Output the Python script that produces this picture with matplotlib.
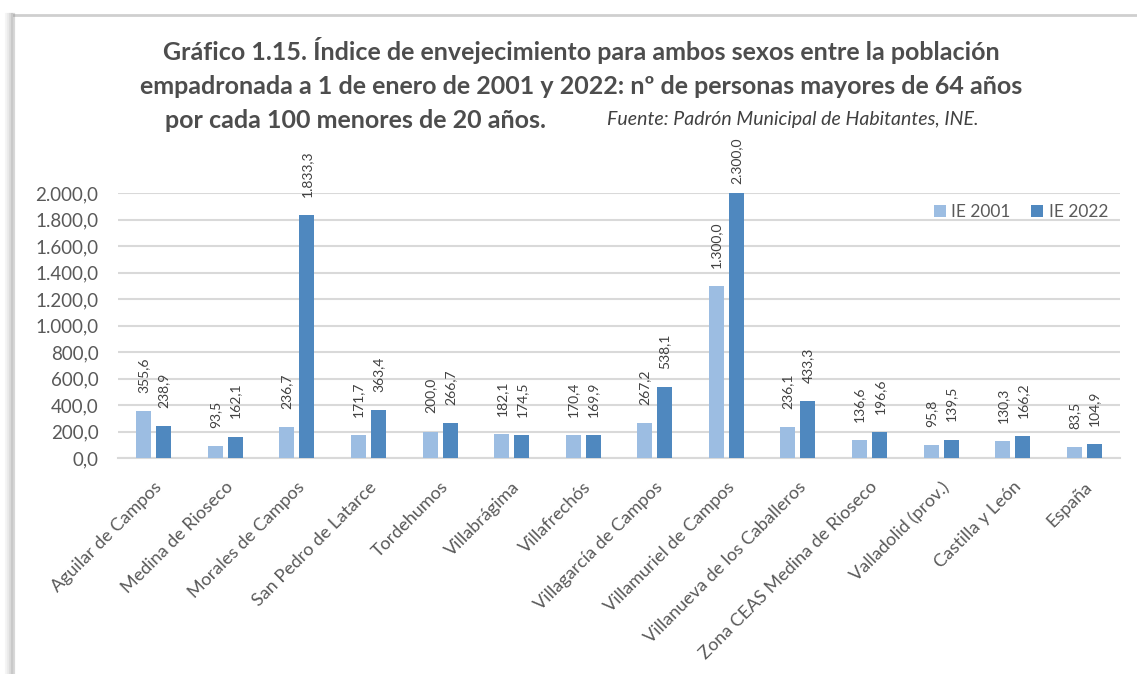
import matplotlib.pyplot as plt
import numpy as np
from matplotlib.lines import Line2D

plt.rcParams['font.family'] = ['Lato', 'DejaVu Sans']

# %% data
categories = ['Aguilar de Campos', 'Medina de Rioseco', 'Morales de Campos',
              'San Pedro de Latarce', 'Tordehumos', 'Villabrágima', 'Villafrechós',
              'Villagarcía de Campos', 'Villamuriel de Campos',
              'Villanueva de los Caballeros', 'Zona CEAS Medina de Rioseco',
              'Valladolid (prov.)', 'Castilla y León', 'España']
ie_2001 = [355.6, 93.5, 236.7, 171.7, 200.0, 182.1, 170.4, 267.2, 1300.0,
           236.1, 136.6, 95.8, 130.3, 83.5]
ie_2022 = [238.9, 162.1, 1833.3, 363.4, 266.7, 174.5, 169.9, 538.1, 2300.0,
           433.3, 196.6, 139.5, 166.2, 104.9]
yticks = np.arange(0, 2001, 200)

c_2001 = '#9cbde2'
c_2022 = '#4f88bf'
txt = '#595959'


def es_fmt(v):
    # spanish number format: 1.833,3
    s = '{:,.1f}'.format(v)
    return s.replace(',', 'X').replace('.', ',').replace('X', '.')


# %% figure
fig = plt.figure(figsize=(11.37, 6.74), dpi=100)
ax = fig.add_axes([118 / 1137, 1 - 458 / 674, (1120 - 118) / 1137, (458 - 193) / 674])

x = np.arange(len(categories))
w = 0.21
off = 0.14
ax.bar(x - off, ie_2001, w, color=c_2001, label='IE 2001', zorder=3)
ax.bar(x + off, ie_2022, w, color=c_2022, label='IE 2022', zorder=3)

ax.set_ylim(0, 2000)
ax.set_xlim(-0.5, len(categories) - 0.5)
ax.set_yticks(yticks)
ax.set_yticklabels([es_fmt(v) for v in yticks], fontsize=13.5, color=txt)
ax.set_xticks(x)
ax.set_xticklabels(categories, rotation=45, ha='right', rotation_mode='anchor',
                   fontsize=13, color=txt)
ax.tick_params(axis='both', length=0)
ax.tick_params(axis='x', pad=15)
ax.tick_params(axis='y', pad=14)
ax.grid(axis='y', color='#d9d9d9', linewidth=1.5, zorder=0)
for s in ['top', 'right', 'left']:
    ax.spines[s].set_visible(False)
ax.spines['bottom'].set_color('#d9d9d9')
ax.spines['bottom'].set_linewidth(1.5)

for vals, dx in [(ie_2001, -off), (ie_2022, off)]:
    for i, v in enumerate(vals):
        ax.annotate(es_fmt(v), (x[i] + dx, min(v, 2000)), xytext=(0, 6.5 if v > 2000 else 13),
                    textcoords='offset points', rotation=90, ha='center', va='bottom',
                    fontsize=10, color='#404040', annotation_clip=False)

leg = ax.legend(loc='upper right', bbox_to_anchor=(0.995, 0.985), ncol=2, frameon=False,
                fontsize=12.5, handlelength=0.7, handleheight=0.7, handletextpad=0.3,
                columnspacing=1.2, borderaxespad=0)
for t in leg.get_texts():
    t.set_color(txt)

# %% title
tcol = '#4d4d4d'
fig.text(0.511, 1 - 50 / 674, 'Gráfico 1.15. Índice de envejecimiento para ambos sexos entre la población',
         ha='center', va='center', fontsize=18, fontweight='bold', color=tcol)
fig.text(0.511, 1 - 87 / 674, 'empadronada a 1 de enero de 2001 y 2022: nº de personas mayores de 64 años',
         ha='center', va='center', fontsize=18, fontweight='bold', color=tcol)
fig.text(165 / 1137, 1 - 120 / 674, 'por cada 100 menores de 20 años.',
         ha='left', va='center', fontsize=18, fontweight='bold', color=tcol)
fig.text(607 / 1137, 1 - 120 / 674, 'Fuente: Padrón Municipal de Habitantes, INE.',
         ha='left', va='center', fontsize=14, style='italic', color='#404040')

# %% frame with shadow
fig.add_artist(Line2D([14 / 1137, 1], [1 - 15 / 674, 1 - 15 / 674], color='#cfcfcf',
                      linewidth=2, transform=fig.transFigure))
for px, a in [(6, 0.08), (8, 0.15), (10, 0.25), (12, 0.4), (14, 0.3)]:
    fig.add_artist(Line2D([px / 1137, px / 1137], [0, 1 - 14 / 674], color='#808080',
                          alpha=a, linewidth=1.6, transform=fig.transFigure))

plt.savefig('out.png', dpi=100)
plt.close()
